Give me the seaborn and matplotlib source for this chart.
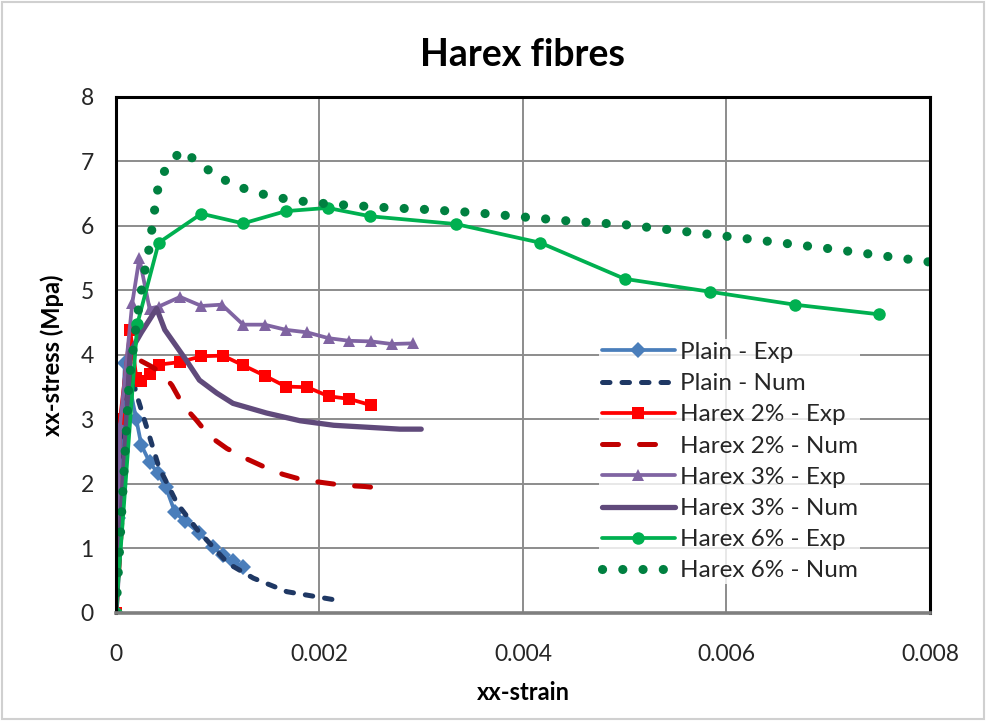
import numpy as np
import pandas as pd
import matplotlib
matplotlib.use("Agg")
import matplotlib.pyplot as plt
import seaborn as sns

# values
plain_exp_x = [0, 0.00002, 0.000088, 0.0002, 0.00025, 0.00033, 0.00041, 0.00049, 0.00058, 0.00068, 0.00082, 0.00095, 0.00105, 0.00115, 0.00125]
plain_exp_y = [0, 1.47, 3.87, 3.00, 2.60, 2.34, 2.17, 1.95, 1.56, 1.42, 1.24, 1.03, 0.90, 0.80, 0.71]

plain_num_x = [0, 0.00012, 0.0002, 0.0003, 0.00042, 0.0006, 0.0008, 0.0011, 0.00135, 0.00168, 0.0022]
plain_num_y = [0, 3.90, 3.40, 2.89, 2.27, 1.70, 1.29, 0.77, 0.54, 0.33, 0.19]

h2_exp_x = [0, 0.00004, 0.00014, 0.0002, 0.00025, 0.00033, 0.00042, 0.00063, 0.00084, 0.00105, 0.00125, 0.00146, 0.00167, 0.00188, 0.00209, 0.00229, 0.00251]
h2_exp_y = [0, 3.00, 4.38, 3.65, 3.60, 3.70, 3.85, 3.89, 3.98, 3.99, 3.84, 3.68, 3.51, 3.50, 3.36, 3.32, 3.22]

h2_num_x = [0, 0.00015, 0.00022, 0.00035, 0.00045, 0.00055, 0.00066, 0.00079, 0.00092, 0.00109, 0.00127, 0.00145, 0.00164, 0.00182, 0.00204, 0.00223, 0.00245, 0.00264]
h2_num_y = [0, 3.70, 3.93, 3.82, 3.72, 3.53, 3.22, 2.99, 2.74, 2.55, 2.40, 2.27, 2.15, 2.07, 2.02, 1.98, 1.96, 1.93]

h3_exp_x = [0, 0.00004, 0.00016, 0.00023, 0.00033, 0.00042, 0.00063, 0.00084, 0.00104, 0.00125, 0.00146, 0.00167, 0.00188, 0.00209, 0.00229, 0.00251, 0.00271, 0.00292]
h3_exp_y = [0, 2.90, 4.80, 5.50, 4.72, 4.75, 4.90, 4.76, 4.78, 4.47, 4.47, 4.39, 4.35, 4.26, 4.22, 4.21, 4.17, 4.18]

h3_num_x = [0, 0.00014, 0.00025, 0.0004, 0.00048, 0.00069, 0.00082, 0.00099, 0.00115, 0.00148, 0.00181, 0.00214, 0.00279, 0.003]
h3_num_y = [0, 4.05, 4.35, 4.72, 4.39, 3.92, 3.61, 3.41, 3.25, 3.10, 2.98, 2.91, 2.85, 2.85]

h6_exp_x = [0, 0.00021, 0.00042, 0.00084, 0.00125, 0.00167, 0.00208, 0.0025, 0.00334, 0.00417, 0.005, 0.00584, 0.00667, 0.0075]
h6_exp_y = [0, 4.48, 5.74, 6.19, 6.04, 6.23, 6.28, 6.15, 6.03, 5.74, 5.18, 4.98, 4.78, 4.63]

h6_num_x = [0, 0.00013, 0.00021, 0.00027, 0.00031, 0.00034, 0.000366, 0.000395, 0.000425, 0.00052, 0.00065, 0.0008, 0.00096, 0.00113,
            0.00131, 0.0015, 0.0017, 0.0019, 0.0021, 0.0023, 0.0025, 0.0027, 0.003, 0.0035, 0.004, 0.0045, 0.005, 0.006, 0.007, 0.008]
h6_num_y = [0, 3.60, 4.60, 5.20, 5.50, 5.80, 6.10, 6.41, 6.71, 6.96, 7.18, 6.99, 6.81, 6.66,
            6.55, 6.47, 6.41, 6.37, 6.34, 6.32, 6.30, 6.28, 6.26, 6.21, 6.14, 6.07, 6.02, 5.84, 5.65, 5.44]

sns.set_style("white")
plt.rcParams['font.family'] = ['Lato', 'DejaVu Sans']

fig = plt.figure(figsize=(9.86, 7.22), dpi=100)
ax = fig.add_axes([0.1176, 0.151, 0.8256, 0.7147])

series = [
    (plain_exp_x, plain_exp_y, 'Plain - Exp', dict(color='#4A7EBB', lw=2.7, marker='D', markersize=8)),
    (plain_num_x, plain_num_y, 'Plain - Num', dict(color='#1F3864', lw=3.6, linestyle=(0, (1.5, 2.4)), dash_capstyle='round')),
    (h2_exp_x, h2_exp_y, 'Harex 2% - Exp', dict(color='#FF0000', lw=2.7, marker='s', markersize=8.5)),
    (h2_num_x, h2_num_y, 'Harex 2% - Num', dict(color='#C00000', lw=3.6, linestyle=(0, (3.2, 4.2)), dash_capstyle='round')),
    (h3_exp_x, h3_exp_y, 'Harex 3% - Exp', dict(color='#8064A2', lw=2.7, marker='^', markersize=8.5)),
    (h3_num_x, h3_num_y, 'Harex 3% - Num', dict(color='#604A7B', lw=3.8)),
    (h6_exp_x, h6_exp_y, 'Harex 6% - Exp', dict(color='#00B050', lw=2.7, marker='o', markersize=9)),
    (h6_num_x, h6_num_y, 'Harex 6% - Num', dict(color='#008040', lw=6.6, linestyle=(0, (0.01, 2.2)), dash_capstyle='round')),
]

for xs, ys, name, style in series:
    sns.lineplot(x=xs, y=ys, ax=ax, label=name, sort=False, estimator=None,
                 markeredgewidth=0, solid_capstyle='round', **style)

ax.set_xlim(0, 0.008)
ax.set_ylim(0, 8)
ax.set_xticks([0, 0.002, 0.004, 0.006, 0.008])
ax.set_xticklabels(['0', '0.002', '0.004', '0.006', '0.008'])
ax.set_yticks(range(0, 9))
ax.tick_params(axis='both', labelsize=16.5, length=0)
ax.tick_params(axis='x', pad=22)
ax.tick_params(axis='y', pad=16)
ax.grid(True, color='#8C8C8C', lw=1.4)
ax.set_axisbelow(True)
for side in ['top', 'left', 'right']:
    ax.spines[side].set_color('black')
    ax.spines[side].set_linewidth(2.2)
ax.spines['bottom'].set_color('#7F7F7F')
ax.spines['bottom'].set_linewidth(2.6)

ax.set_title('Harex fibres', fontsize=27, fontweight='bold', pad=22, color='black')
ax.set_xlabel('xx-strain', fontsize=17, fontweight='bold', labelpad=12, color='black')
ax.set_ylabel('xx-stress (Mpa)', fontsize=17, fontweight='bold', labelpad=12, color='black')

leg = ax.legend(loc='upper left', bbox_to_anchor=(0.594, 0.53), frameon=True, fontsize=17.5,
                handlelength=3.0, handletextpad=0.2, labelspacing=0.42, borderpad=0.1,
                borderaxespad=0)
leg.get_frame().set_facecolor('white')
leg.get_frame().set_edgecolor('none')

fig.patches.append(plt.Rectangle((0.002, 0.004), 0.996, 0.993, transform=fig.transFigure,
                                 fill=False, edgecolor='#D0D0D0', lw=1.5))

fig.savefig('out.png', dpi=100)
